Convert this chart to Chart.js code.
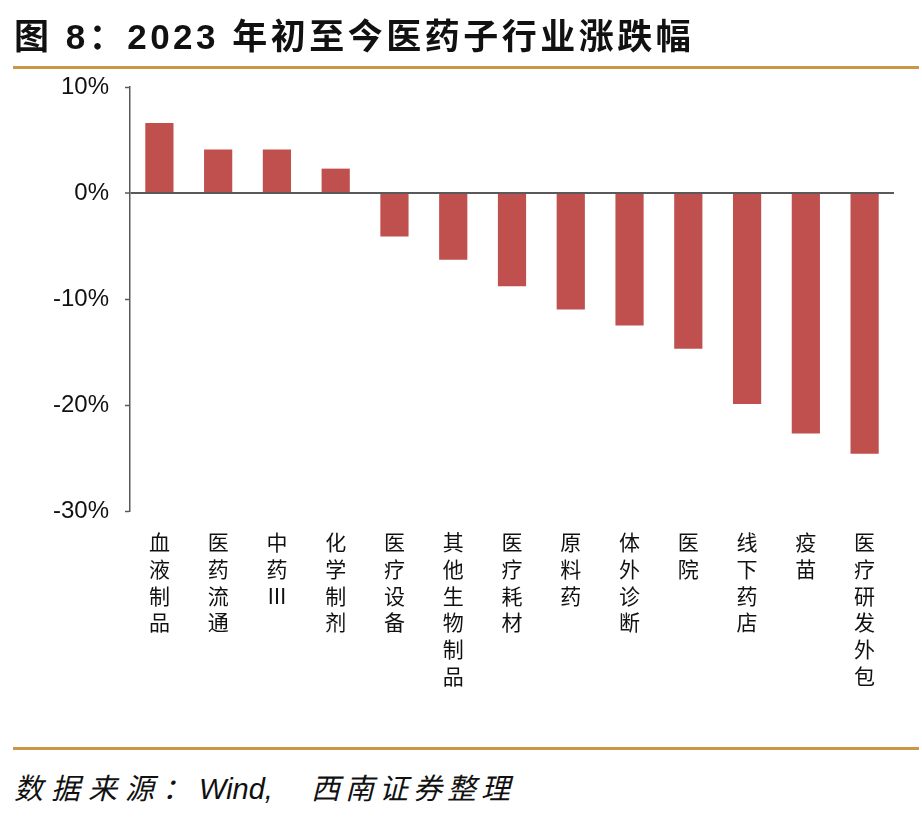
<!DOCTYPE html>
<html>
<head>
<meta charset="utf-8">
<script src="https://cdn.jsdelivr.net/npm/chart.js@4/dist/chart.umd.min.js"></script>
<style>
  body { margin: 0; background: #fff; width: 922px; height: 818px; position: relative; overflow: hidden; }
  #title { position: absolute; left: 14px; top: 8px; height: 44px; line-height: 44px; white-space: nowrap;
           font: bold 35px "Liberation Sans", "Noto Sans CJK SC", sans-serif; letter-spacing: 3.5px; color: #111; }
  .rule { position: absolute; left: 13px; width: 906px; height: 3px; background: #C9974A; }
  #source { position: absolute; left: 14px; top: 765px; height: 40px; line-height: 40px; white-space: nowrap;
            font: italic 29px "Liberation Sans", "Noto Sans CJK SC", sans-serif; color: #111; }
  #source .cn1 { letter-spacing: 8px; }
  #source .cn2 { letter-spacing: 5px; margin-left: 38px; }
  #chart { position: absolute; left: 0; top: 0; }
</style>
</head>
<body>
<canvas id="chart" width="922" height="740"></canvas>
<div id="title">图 8：2023 年初至今医药子行业涨跌幅</div>
<div class="rule" style="top:66px"></div>
<div class="rule" style="top:747px"></div>
<div id="source"><span class="cn1">数据来源：</span>Wind,<span class="cn2">西南证券整理</span></div>
<script>
// 子行业 与 涨跌幅(%)
var categories = ["血液制品", "医药流通", "中药Ⅲ", "化学制剂", "医疗设备", "其他生物制品", "医疗耗材",
                  "原料药", "体外诊断", "医院", "线下药店", "疫苗", "医疗研发外包"];
var changes = [6.6, 4.1, 4.1, 2.3, -4.1, -6.3, -8.8, -11.0, -12.5, -14.7, -19.9, -22.7, -24.6];
var yTicks = [10, 0, -10, -20, -30];

// vertical labels: one character per line
var verticalLabels = categories.map(function (c) { return Array.from(c); });

var ctx = document.getElementById("chart").getContext("2d");
var chart = new Chart(ctx, {
    type: "bar",
    data: {
        labels: verticalLabels,
        datasets: [{
            data: changes,
            backgroundColor: "#C0504D",
            borderWidth: 0,
            categoryPercentage: 1,
            barPercentage: 0.48
        }]
    },
    options: {
        responsive: false,
        animation: false,
        layout: { padding: { top: 87, right: 28, left: 0, bottom: 0 } },
        plugins: { legend: { display: false }, tooltip: { enabled: false }, title: { display: false } },
        scales: {
            x: {
                grid: { display: false },
                border: { display: false },
                ticks: {
                    autoSkip: false, maxRotation: 0, minRotation: 0, padding: 10,
                    color: "#111",
                    font: { family: "'Noto Sans CJK SC', sans-serif", size: 21, lineHeight: 1.27 }
                },
                afterFit: function (s) { s.height = 229; }
            },
            y: {
                min: -30, max: 10,
                afterBuildTicks: function (s) { s.ticks = yTicks.map(function (v) { return { value: v }; }); },
                grid: {
                    color: function (c) { return c.tick && c.tick.value === 0 ? "#595959" : "rgba(0,0,0,0)"; },
                    lineWidth: function (c) { return c.tick && c.tick.value === 0 ? 2 : 1; },
                    tickColor: "#595959", tickLength: 5, tickWidth: 1.5, drawTicks: true
                },
                border: { display: true, color: "#595959", width: 1.5 },
                ticks: {
                    padding: 16, color: "#111",
                    font: { family: "'Liberation Sans', Arial, sans-serif", size: 24 },
                    callback: function (v) { return v + "%"; }
                },
                afterFit: function (s) { s.width = 130; }
            }
        }
    }
});
</script>
</body>
</html>
